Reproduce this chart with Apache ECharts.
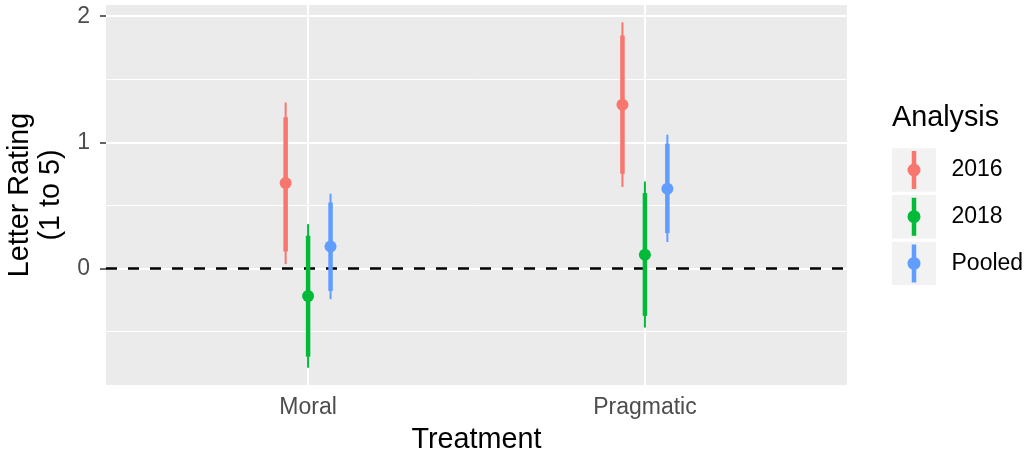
<!DOCTYPE html>
<html><head><meta charset="utf-8">
<script src="https://cdn.jsdelivr.net/npm/echarts@6/dist/echarts.min.js"></script>
<style>html,body{margin:0;padding:0;background:#fff}#c{width:1025px;height:455px}</style>
</head><body><div id="c"></div>
<script>
const categories = ['Moral', 'Pragmatic'];
const analyses = ['2016', '2018', 'Pooled'];
const colors = ['#F8766D', '#00BA38', '#619CFF'];
const yTicks = [0, 1, 2];
const yMinor = [-0.5, 0.5, 1.5];
const yMin = -0.923, yMax = 2.089;

// point estimates per category
const est2016 = [0.678, 1.299];
const est2018 = [-0.217, 0.109];
const estPooled = [0.175, 0.633];
// outer (thin) intervals [low, high]
const outer2016 = [[0.035, 1.316], [0.646, 1.952]];
const outer2018 = [[-0.786, 0.352], [-0.468, 0.690]];
const outerPooled = [[-0.243, 0.593], [0.210, 1.061]];
// inner (thick) intervals [low, high]
const inner2016 = [[0.135, 1.200], [0.752, 1.847]];
const inner2018 = [[-0.698, 0.260], [-0.375, 0.598]];
const innerPooled = [[-0.177, 0.524], [0.281, 0.990]];

const estimates = [est2016, est2018, estPooled];
const outers = [outer2016, outer2018, outerPooled];
const inners = [inner2016, inner2018, innerPooled];

const FONT = "'Liberation Sans', Arial, Helvetica, sans-serif";
const dodgeWidth = 0.2;

function makeRender(offset, color) {
  return function (params, api) {
    const x = api.value(0) + offset;
    const pE = api.coord([x, api.value(1)]);
    const oA = api.coord([x, api.value(2)]);
    const oB = api.coord([x, api.value(3)]);
    const iA = api.coord([x, api.value(4)]);
    const iB = api.coord([x, api.value(5)]);
    return {
      type: 'group',
      children: [
        { type: 'line', shape: { x1: oA[0], y1: oA[1], x2: oB[0], y2: oB[1] }, style: { stroke: color, lineWidth: 2 } },
        { type: 'line', shape: { x1: iA[0], y1: iA[1], x2: iB[0], y2: iB[1] }, style: { stroke: color, lineWidth: 4.5 } },
        { type: 'circle', shape: { cx: pE[0], cy: pE[1], r: 6 }, style: { fill: color } }
      ]
    };
  };
}

const series = analyses.map((name, i) => ({
  name: name,
  type: 'custom',
  z: 5,
  itemStyle: { color: colors[i] },
  renderItem: makeRender((i - 1) * dodgeWidth / 3, colors[i]),
  data: categories.map((c, j) => [j + 1, estimates[i][j], outers[i][j][0], outers[i][j][1], inners[i][j][0], inners[i][j][1]])
}));

series.unshift({
  name: 'zero',
  type: 'line',
  data: [],
  z: 3,
  silent: true,
  markLine: {
    silent: true, symbol: ['none', 'none'], label: { show: false }, animation: false,
    lineStyle: { color: '#000', width: 2.5, type: [11, 11] },
    emphasis: { disabled: true },
    data: [{ yAxis: 0 }]
  }
});
series.unshift({
  name: 'minor',
  type: 'line',
  data: [],
  z: 1,
  silent: true,
  markLine: {
    silent: true, symbol: ['none', 'none'], label: { show: false }, animation: false,
    lineStyle: { color: '#fff', width: 1, type: 'solid' },
    emphasis: { disabled: true },
    data: yMinor.map(v => ({ yAxis: v }))
  }
});

const legendIcon = 'path://M4.25,0 L8.75,0 L8.75,38 L4.25,38 Z M0,19 A6.5,6.5 0 1,1 13,19 A6.5,6.5 0 1,1 0,19 Z';

const keyRects = analyses.map((a, i) => ({
  type: 'rect', shape: { x: 892, y: 148.3 + i * 46.7, width: 44, height: 43.4 },
  style: { fill: '#F2F2F2' }, z: 0
}));

const chart = echarts.init(document.getElementById('c'), null, { renderer: 'canvas' });
chart.setOption({
  animation: false,
  backgroundColor: '#fff',
  textStyle: { fontFamily: FONT },
  grid: { left: 106, right: 178, top: 5, bottom: 70, show: true, backgroundColor: '#EBEBEB', borderWidth: 0, containLabel: false, outerBoundsMode: 'none' },
  xAxis: {
    type: 'value', min: 0.4, max: 2.6,
    axisLine: { show: false },
    axisTick: { show: true, customValues: categories.map((c, i) => i + 1), length: 6, lineStyle: { color: '#333', width: 1.5 } },
    axisLabel: { customValues: categories.map((c, i) => i + 1), formatter: v => categories[Math.round(v) - 1], fontSize: 23, color: '#4D4D4D', margin: 11, fontFamily: FONT },
    splitLine: { show: true, lineStyle: { color: '#fff', width: 2 } },
    name: 'Treatment', nameLocation: 'middle', nameGap: 41,
    nameTextStyle: { fontSize: 28.75, color: '#000', fontFamily: FONT }
  },
  yAxis: {
    type: 'value', min: yMin, max: yMax,
    axisLine: { show: false },
    axisTick: { show: true, customValues: yTicks, length: 6, lineStyle: { color: '#333', width: 1.5 } },
    axisLabel: { customValues: yTicks, fontSize: 23, color: '#4D4D4D', margin: 16, fontFamily: FONT },
    splitLine: { show: true, lineStyle: { color: '#fff', width: 2 } },
    name: 'Letter Rating\n(1 to 5)', nameLocation: 'middle', nameRotate: 90, nameGap: 32,
    nameTextStyle: { fontSize: 28.75, color: '#000', lineHeight: 31, align: 'center', fontFamily: FONT }
  },
  legend: {
    orient: 'vertical', left: 902.5, top: 146,
    itemWidth: 13, itemHeight: 38, itemGap: 8.7,
    icon: legendIcon, selectedMode: false,
    data: analyses,
    textStyle: { fontSize: 23, color: '#000', padding: [0, 0, 0, 26], fontFamily: FONT }
  },
  graphic: [
    { type: 'text', left: 892, top: 104, style: { text: 'Analysis', fontSize: 28.75, fontFamily: FONT, fill: '#000' }, z: 1 }
  ].concat(keyRects),
  series: series
});
</script>
</body></html>
